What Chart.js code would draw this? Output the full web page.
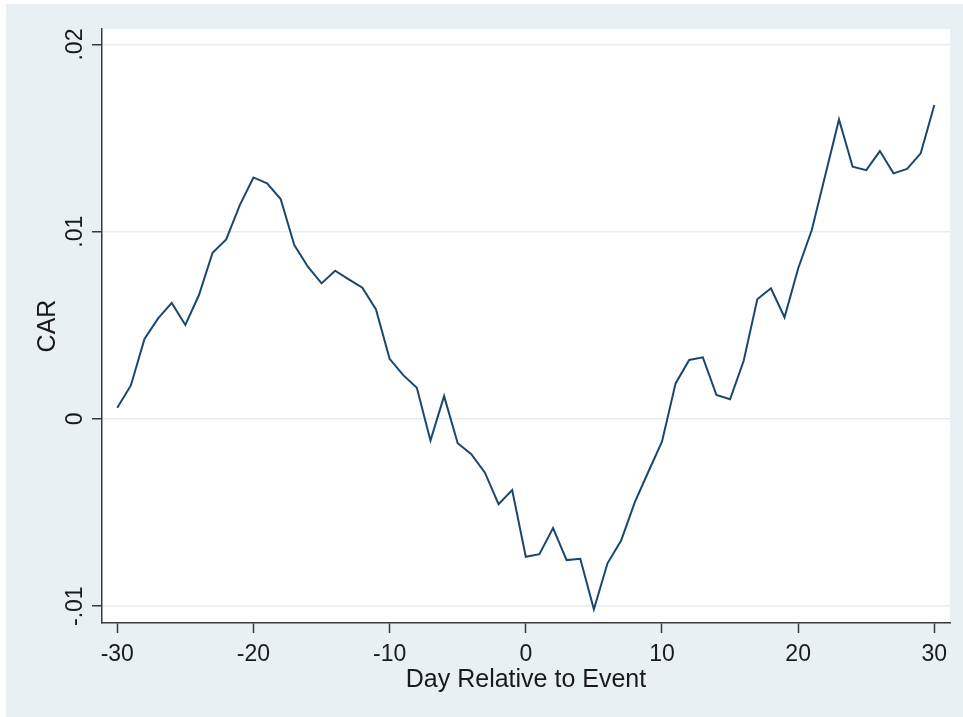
<!DOCTYPE html>
<html>
<head>
<meta charset="utf-8">
<script src="https://cdn.jsdelivr.net/npm/chart.js@4/dist/chart.umd.min.js"></script>
<style>
  html, body { margin: 0; padding: 0; background: #ffffff; }
  #wrap { width: 963px; height: 717px; }
</style>
</head>
<body>
<div id="wrap"><canvas id="car" width="963" height="717"></canvas></div>
<script>
// Event window (days relative to event)
const days = [
  -30, -29, -28, -27, -26, -25, -24, -23, -22, -21,
  -20, -19, -18, -17, -16, -15, -14, -13, -12, -11,
  -10, -9, -8, -7, -6, -5, -4, -3, -2, -1,
  0, 1, 2, 3, 4, 5, 6, 7, 8, 9,
  10, 11, 12, 13, 14, 15, 16, 17, 18, 19,
  20, 21, 22, 23, 24, 25, 26, 27, 28, 29, 30
];

// Cumulative abnormal return for each day
const carValues = [
  0.00060, 0.00179, 0.00427, 0.00537, 0.00620, 0.00502, 0.00662, 0.00888, 0.00959, 0.01142,
  0.01290, 0.01258, 0.01175, 0.00929, 0.00813, 0.00724, 0.00792, 0.00746, 0.00701, 0.00585,
  0.00321, 0.00234, 0.00167, -0.00116, 0.00122, -0.00130, -0.00188, -0.00287, -0.00455, -0.00380,
  -0.00736, -0.00722, -0.00583, -0.00754, -0.00747, -0.01017, -0.00771, -0.00650, -0.00446, -0.00282,
  -0.00122, 0.00190, 0.00315, 0.00329, 0.00128, 0.00105, 0.00311, 0.00639, 0.00698, 0.00543,
  0.00804, 0.01009, 0.01304, 0.01600, 0.01347, 0.01329, 0.01431, 0.01312, 0.01336, 0.01419, 0.01677
];

// Axis ticks
const xTicks = [-30, -20, -10, 0, 10, 20, 30];
const yTicks = [-0.01, 0, 0.01, 0.02];
const yTickLabels = ['-.01', '0', '.01', '.02'];

const xTitle = 'Day Relative to Event';
const yTitle = 'CAR';

const FONT = '"Liberation Sans", Arial, Helvetica, sans-serif';
const BG = '#e9f0f3';
const INK = '#1a1a1a';
const AXIS = '#3a3a3a';

const points = days.map((d, i) => ({ x: d, y: carValues[i] }));

// Backgrounds, rotated y tick labels and axis titles
const decor = {
  id: 'decor',
  beforeDraw(chart) {
    const { ctx, chartArea: a } = chart;
    ctx.save();
    ctx.fillStyle = '#ffffff';
    ctx.fillRect(0, 0, chart.width, chart.height);
    ctx.fillStyle = BG;
    ctx.fillRect(6, 4, chart.width - 6, chart.height - 4);
    ctx.fillStyle = '#ffffff';
    ctx.fillRect(a.left, a.top, a.right - a.left, a.bottom - a.top);
    ctx.restore();
  },
  afterDraw(chart) {
    const { ctx, chartArea: a } = chart;
    const ys = chart.scales.y;
    ctx.save();
    ctx.fillStyle = INK;
    ctx.textAlign = 'center';
    ctx.textBaseline = 'alphabetic';

    ctx.font = '23px ' + FONT;
    yTicks.forEach((v, i) => {
      const py = ys.getPixelForValue(v);
      ctx.save();
      ctx.translate(82, py);
      ctx.rotate(-Math.PI / 2);
      ctx.fillText(yTickLabels[i], 0, 0);
      ctx.restore();
    });

    ctx.font = '25px ' + FONT;
    ctx.save();
    ctx.translate(55, (a.top + a.bottom) / 2);
    ctx.rotate(-Math.PI / 2);
    ctx.fillText(yTitle, 0, 0);
    ctx.restore();

    ctx.fillText(xTitle, (a.left + a.right) / 2, 687);
    ctx.restore();
  }
};

new Chart(document.getElementById('car'), {
  type: 'line',
  data: {
    datasets: [{
      data: points,
      borderColor: '#1a476f',
      borderWidth: 2,
      pointRadius: 0,
      tension: 0,
      fill: false
    }]
  },
  options: {
    responsive: false,
    animation: false,
    events: [],
    layout: { padding: { left: 0, top: 29, right: 13, bottom: 0 } },
    plugins: { legend: { display: false }, tooltip: { enabled: false } },
    scales: {
      x: {
        type: 'linear',
        min: -31.12,
        max: 31.15,
        afterBuildTicks: s => { s.ticks = xTicks.map(v => ({ value: v })); },
        afterFit: s => { s.height = 94; },
        grid: {
          display: true,
          drawOnChartArea: false,
          drawTicks: true,
          tickLength: 10,
          tickColor: AXIS,
          tickWidth: 1.5
        },
        border: { display: true, color: AXIS, width: 1.5 },
        ticks: {
          color: INK,
          font: { family: FONT, size: 23 },
          padding: 8,
          maxRotation: 0,
          minRotation: 0,
          callback: v => String(v)
        }
      },
      y: {
        type: 'linear',
        min: -0.0109,
        max: 0.02083,
        afterBuildTicks: s => { s.ticks = yTicks.map(v => ({ value: v })); },
        afterFit: s => { s.width = 102; },
        grid: {
          display: true,
          drawOnChartArea: true,
          color: '#e4edf1',
          lineWidth: 1.5,
          drawTicks: true,
          tickLength: 10,
          tickColor: AXIS,
          tickWidth: 1.5
        },
        border: { display: true, color: AXIS, width: 1.5 },
        ticks: { display: false }
      }
    }
  },
  plugins: [decor]
});
</script>
</body>
</html>
